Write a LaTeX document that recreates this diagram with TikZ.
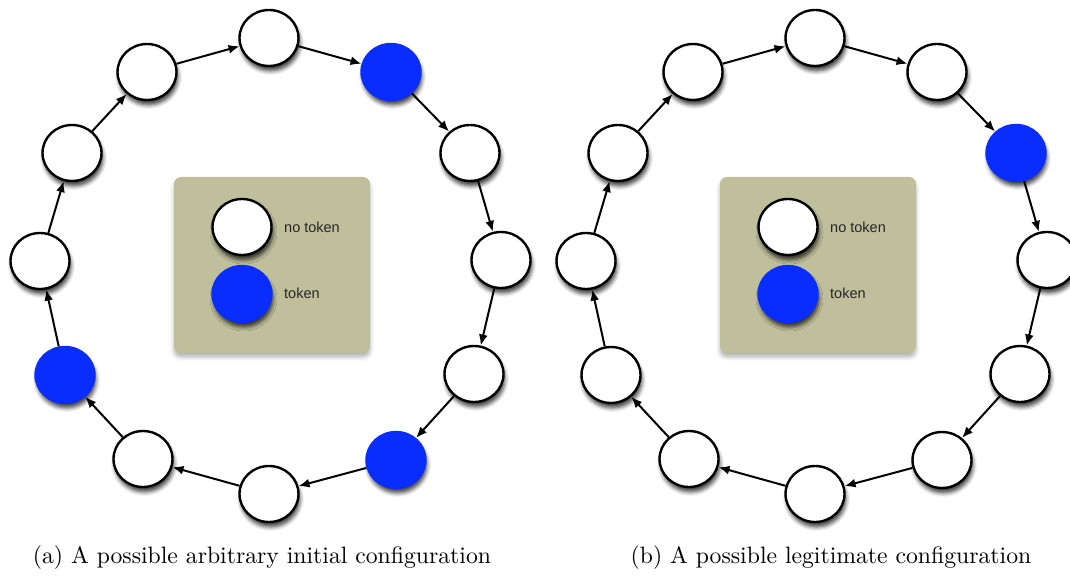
\documentclass[tikz,border=0pt]{standalone}
\usepackage{fontspec}
\newfontfamily\legendfont{Liberation Sans}
\usetikzlibrary{arrows.meta,shapes.geometric,shadows.blur}
\definecolor{tokblue}{RGB}{10,45,255}
\definecolor{legbg}{RGB}{191,191,156}
\tikzset{
  ringnode/.style={ellipse, minimum width=59pt, minimum height=56pt, inner sep=0pt, line width=2.4pt,
    blur shadow={shadow xshift=1.5pt, shadow yshift=-5pt, shadow blur radius=4pt, shadow opacity=75}},
  emptynode/.style={ringnode, draw=black, fill=white},
  tokennode/.style={ringnode, draw=tokblue, fill=tokblue},
  link/.style={line width=2pt, -{Latex[length=11pt,width=9pt]}},
  legendbox/.style={draw=none, fill=legbg, rounded corners=7pt, minimum width=196pt, minimum height=176pt,
    blur shadow={shadow xshift=0pt, shadow yshift=-4pt, shadow blur radius=4pt, shadow opacity=30}},
  legendtext/.style={font=\legendfont\fontsize{14.5}{16}\selectfont, anchor=west, text=black!85, inner sep=0pt},
  captiontext/.style={font=\fontsize{10}{12}\selectfont, scale=2.37, inner sep=0pt}
}
\begin{document}
\begin{tikzpicture}[x=1pt,y=-1pt]
\useasboundingbox (0,0) rectangle (1070,577);
% legend boxes
\node[legendbox] (boxa) at (272,265) {};
\node[legendbox] (boxb) at (818,265) {};
\node[emptynode] (lea) at (242,227) {};
\node[tokennode] (lta) at (242,294) {};
\node[legendtext] (lnta) at (284,227) {no token};
\node[legendtext] (ltxa) at (284,293) {token};
\node[emptynode] (leb) at (788,227) {};
\node[tokennode] (ltb) at (788,294) {};
\node[legendtext] (lntb) at (830,227) {no token};
\node[legendtext] (ltxb) at (830,293) {token};
% left ring
\node[emptynode] (a0) at (269,38) {};
\node[tokennode] (a1) at (391,72) {};
\node[emptynode] (a2) at (470,153) {};
\node[emptynode] (a3) at (501,260) {};
\node[emptynode] (a4) at (474,374) {};
\node[tokennode] (a5) at (396,460) {};
\node[emptynode] (a6) at (269,494) {};
\node[emptynode] (a7) at (143,459) {};
\node[tokennode] (a8) at (65,375) {};
\node[emptynode] (a9) at (40,261) {};
\node[emptynode] (a10) at (72,153) {};
\node[emptynode] (a11) at (147,72) {};
% right ring
\node[emptynode] (b0) at (815,38) {};
\node[emptynode] (b1) at (937,72) {};
\node[tokennode] (b2) at (1016,153) {};
\node[emptynode] (b3) at (1047,260) {};
\node[emptynode] (b4) at (1020,374) {};
\node[emptynode] (b5) at (942,460) {};
\node[emptynode] (b6) at (815,494) {};
\node[emptynode] (b7) at (689,459) {};
\node[emptynode] (b8) at (611,375) {};
\node[emptynode] (b9) at (586,261) {};
\node[emptynode] (b10) at (618,153) {};
\node[emptynode] (b11) at (693,72) {};
% connectors
\foreach \i [evaluate=\i as \j using {int(mod(\i+1,12))}] in {0,...,11} {
  \draw[link] (a\i) -- (a\j);
  \draw[link] (b\i) -- (b\j);
}
% captions
\node[captiontext] (capa) at (262,558) {(a) A possible arbitrary initial configuration};
\node[captiontext] (capb) at (831,558) {(b) A possible legitimate configuration};
\end{tikzpicture}
\end{document}
